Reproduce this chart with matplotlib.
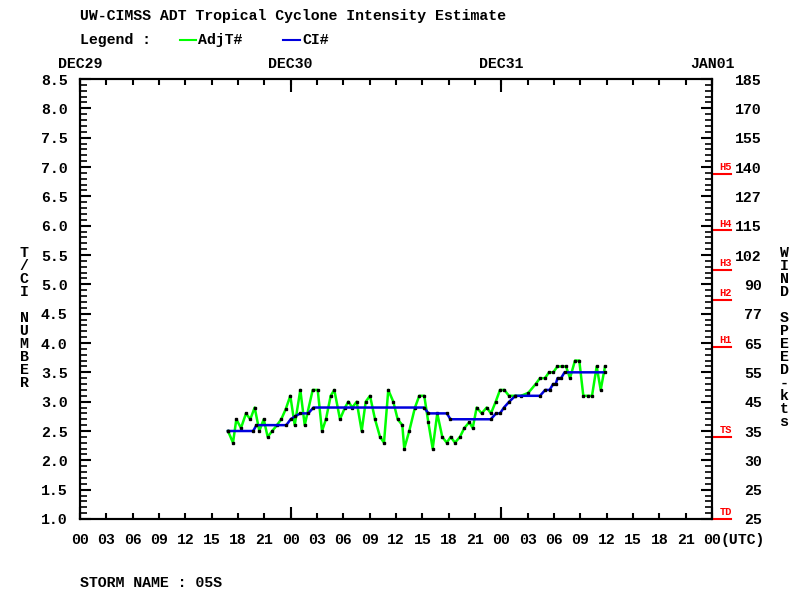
import numpy as np
import matplotlib
matplotlib.use('Agg')
import matplotlib.pyplot as plt
from matplotlib.lines import Line2D
import matplotlib.transforms as mtransforms

# hours since DEC29 00 UTC
adj_hours = [16.86, 17.43, 17.81, 18.34, 18.91, 19.40, 19.90, 20.43, 20.93, 21.38,
             21.90, 22.44, 22.93, 23.43, 23.96, 24.46, 25.10, 25.60, 26.51, 27.08,
             27.57, 28.02, 28.56, 28.97, 29.62, 30.19, 30.57, 31.02, 31.52, 32.09,
             32.55, 33.04, 33.61, 34.18, 34.63, 35.12, 35.69, 36.19, 36.72, 36.94,
             37.51, 38.16, 38.65, 39.22, 39.68, 40.18, 40.70, 41.27, 41.78, 42.23,
             42.72, 43.29, 43.78, 44.35, 44.74, 45.19, 45.76, 46.33, 46.82, 47.36,
             47.85, 48.34, 48.87, 49.56, 50.24, 51.07, 51.91, 52.40, 52.97, 53.43,
             53.92, 54.38, 54.91, 55.37, 55.82, 56.39, 56.88, 57.34, 57.87, 58.33,
             58.86, 59.32, 59.81]
adj_t = [2.5, 2.3, 2.7, 2.55, 2.8, 2.7, 2.9, 2.5, 2.7, 2.4,
         2.5, 2.6, 2.7, 2.87, 3.1, 2.6, 3.2, 2.6, 3.2, 3.2,
         2.5, 2.7, 3.1, 3.2, 2.7, 2.9, 3.0, 2.9, 3.0, 2.5,
         3.0, 3.1, 2.7, 2.4, 2.3, 3.2, 3.0, 2.7, 2.6, 2.2,
         2.5, 2.9, 3.1, 3.1, 2.65, 2.2, 2.8, 2.4, 2.3, 2.4,
         2.3, 2.4, 2.55, 2.65, 2.55, 2.9, 2.8, 2.9, 2.8, 3.0,
         3.2, 3.2, 3.1, 3.1, 3.1, 3.15, 3.3, 3.4, 3.4, 3.5,
         3.5, 3.6, 3.6, 3.6, 3.4, 3.7, 3.7, 3.1, 3.1, 3.1,
         3.6, 3.2, 3.6]

ci_hours = [16.86, 19.73, 20.10, 23.50, 24.00, 24.50, 25.10, 26.00, 26.60, 39.20,
            39.70, 41.80, 42.20, 46.80, 47.40, 47.85, 48.30, 48.90, 49.60, 52.40,
            53.00, 53.50, 53.90, 54.20, 54.40, 54.80, 55.20, 59.81]
ci = [2.5, 2.5, 2.6, 2.6, 2.7, 2.75, 2.8, 2.8, 2.9, 2.9,
      2.8, 2.8, 2.7, 2.7, 2.8, 2.8, 2.9, 3.0, 3.1, 3.1,
      3.2, 3.2, 3.3, 3.3, 3.4, 3.4, 3.5, 3.5]

t_ticks = [1.0, 1.5, 2.0, 2.5, 3.0, 3.5, 4.0, 4.5, 5.0, 5.5, 6.0, 6.5, 7.0, 7.5, 8.0, 8.5]
wind_labels = ['25', '25', '30', '35', '45', '55', '65', '77', '90', '102',
               '115', '127', '140', '155', '170', '185']
hour_labels = ['00', '03', '06', '09', '12', '15', '18', '21'] * 3 + ['00']
day_labels = ['DEC29', 'DEC30', 'DEC31', 'JAN01']
cat_names = ['TD', 'TS', 'H1', 'H2', 'H3', 'H4', 'H5']
cat_t = [1.0, 2.4, 3.93, 4.73, 5.25, 5.92, 6.88]

FONT = 'Liberation Mono'
FS = 10.7
W, H = 800, 600

fig = plt.figure(figsize=(8, 6), dpi=100)
ax = fig.add_axes([80 / W, 1 - 519 / H, 632 / W, 440 / H])

ax.plot(adj_hours, adj_t, color='#00ff00', lw=1.8, zorder=3,
        marker='s', ms=1.6, mfc='black', mec='black')
ax.plot(ci_hours, ci, color='#0000dd', lw=1.8, zorder=4,
        marker='s', ms=1.6, mfc='black', mec='black')

ax.set_xlim(0, 72)
ax.set_ylim(1.0, 8.5)
for s in ax.spines.values():
    s.set_linewidth(1.5)

# x ticks: every 3 h labelled, day boundaries longer
ax.set_xticks(np.arange(0, 73, 3))
ax.set_xticklabels(hour_labels, fontfamily=FONT, fontweight='bold', fontsize=FS)
ax.set_xticks(np.arange(0, 73, 24), minor=True)
ax.xaxis.remove_overlapping_locs = False
ax.tick_params(axis='x', which='major', direction='in', length=4.5, width=1.5,
               top=True, pad=10)
ax.tick_params(axis='x', which='minor', direction='in', length=9, width=1.5, top=True)

ax.set_yticks(t_ticks)
ax.set_yticklabels([f'{v:.1f}' for v in t_ticks], fontfamily=FONT,
                   fontweight='bold', fontsize=FS)
ax.set_yticks(np.arange(1.0, 8.51, 0.1), minor=True)
ax.tick_params(axis='y', which='major', direction='in', length=8, width=1.5, pad=9)
ax.tick_params(axis='y', which='minor', direction='in', length=5, width=1.2)

ax2 = ax.twinx()
ax2.set_ylim(1.0, 8.5)
ax2.set_yticks(t_ticks)
ax2.set_yticklabels(wind_labels, fontfamily=FONT, fontweight='bold', fontsize=FS)
ax2.set_yticks(np.arange(1.0, 8.51, 0.1), minor=True)
ax2.tick_params(axis='y', which='major', direction='in', length=8, width=1.5, pad=36)
ax2.tick_params(axis='y', which='minor', direction='in', length=5, width=1.2)
for lab in ax2.get_yticklabels():
    lab.set_ha('right')
for s in ax2.spines.values():
    s.set_linewidth(1.5)

# UTC suffix right after last hour label
trans_bot = mtransforms.blended_transform_factory(ax.transData, ax.transAxes)
trans_utc = mtransforms.offset_copy(trans_bot, fig=fig, x=9, y=0, units='dots')
ax.text(72, -0.047, '(UTC)', transform=trans_utc, ha='left', va='center',
        fontfamily=FONT, fontweight='bold', fontsize=FS)
# day labels on top
for i, d in enumerate(day_labels):
    ax.text(i * 24, 1.035, d, transform=trans_bot, ha='center', va='center',
            fontfamily=FONT, fontweight='bold', fontsize=FS)

# storm category markers on right axis
trans_cat = mtransforms.blended_transform_factory(ax.transAxes, ax.transData)
for name, v in zip(cat_names, cat_t):
    ax.plot([1.0, 1.03], [v, v], color='red', lw=1.5, transform=trans_cat,
            clip_on=False, zorder=5)
    ax.text(1.012, v + 0.03, name, transform=trans_cat, color='red', fontsize=7.5,
            fontfamily=FONT, fontweight='bold', ha='left', va='bottom')

# header text and legend
fig.text(80 / W, 1 - 16 / H, 'UW-CIMSS ADT Tropical Cyclone Intensity Estimate',
         fontfamily=FONT, fontweight='bold', fontsize=FS, va='center')
fig.text(80 / W, 1 - 40 / H, 'Legend :', fontfamily=FONT, fontweight='bold',
         fontsize=FS, va='center')
fig.add_artist(Line2D([180 / W, 196 / W], [1 - 40 / H] * 2, color='#00ff00', lw=1.5))
fig.text(198 / W, 1 - 40 / H, 'AdjT#', fontfamily=FONT, fontweight='bold',
         fontsize=FS, va='center')
fig.add_artist(Line2D([283 / W, 300 / W], [1 - 40 / H] * 2, color='#0000dd', lw=1.5))
fig.text(302 / W, 1 - 40 / H, 'CI#', fontfamily=FONT, fontweight='bold',
         fontsize=FS, va='center')
fig.text(80 / W, 1 - 583 / H, 'STORM NAME : 05S', fontfamily=FONT, fontweight='bold',
         fontsize=FS, va='center')

# stacked axis titles
for i, ch in enumerate('T/CI NUMBER'):
    fig.text(24 / W, 1 - (253 + 13 * i) / H, ch, fontfamily=FONT, fontweight='bold',
             fontsize=FS, ha='center', va='center')
for i, ch in enumerate('WIND SPEED-kts'):
    fig.text(784 / W, 1 - (253 + 13 * i) / H, ch, fontfamily=FONT, fontweight='bold',
             fontsize=FS, ha='center', va='center')

fig.savefig('out.png', dpi=100, facecolor='white')
